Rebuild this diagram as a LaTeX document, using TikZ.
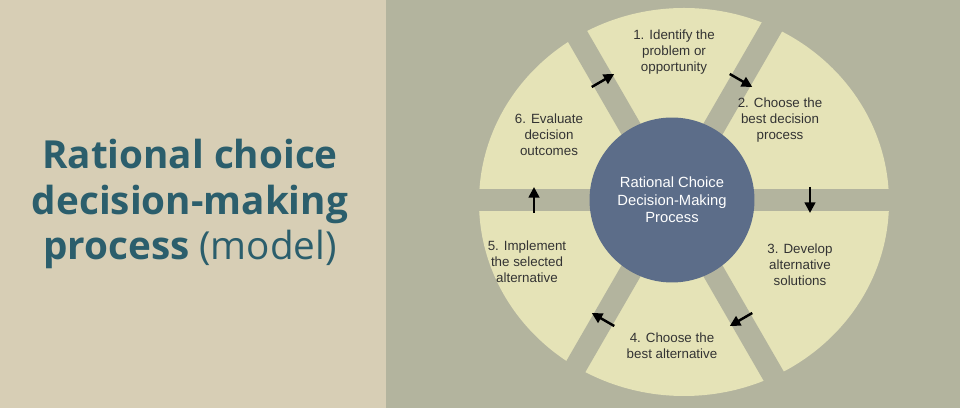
\documentclass[tikz,border=0pt]{standalone}
\usepackage{fontspec}
\setmainfont{Liberation Sans}
\newfontfamily\titlefont{Open Sans}
\usetikzlibrary{arrows.meta,calc}
\definecolor{leftBg}{HTML}{D7CEB5}
\definecolor{rightBg}{HTML}{B3B49E}
\definecolor{sectorFill}{HTML}{E5E3B7}
\definecolor{hubFill}{HTML}{5C6D89}
\definecolor{titleTeal}{HTML}{2B5E6C}
\begin{document}
\begin{tikzpicture}[
    x=0.02cm, y=0.02cm,
    stage/.style={%
      align=center,
      text=black!80,
      font=\fontsize{7.6}{9}\selectfont,
    },
    gap/.style={%
      draw=rightBg,
      line width=0.44cm,
    },
    flow/.style={%
      -{Triangle[length=6pt,width=6pt]},
      line width=1.4pt,
    },
  ]

    % backgrounds
    \fill [leftBg] (0,0) rectangle (386,408);
    \fill [rightBg] (386,0) rectangle (960,408);
    \useasboundingbox (0,0) rectangle (960,408);

    % title
    \node [text=titleTeal, align=center, font=\titlefont\fontsize{22}{26}\selectfont] (T)
      at (190,204) {\textbf{Rational choice}\\\textbf{decision-making}\\\textbf{process} (model)};

    % wheel
    \coordinate (O) at (672,208);
    \fill [sectorFill] (684,206) ellipse [x radius=205, y radius=194];
    \foreach \a in {0,60,120} {
      \draw [gap] (O) ++(\a:230) -- ++(\a+180:460);
    }
    \node [circle, fill=hubFill, minimum size=3.3cm, text=white, align=center,
      font=\fontsize{8.4}{10}\selectfont] (H) at (O)
      {Rational Choice\\Decision-Making\\Process};

    % stages
    \node [stage] (S1) at (674,356) {1. Identify the\\problem or\\opportunity};
    \node [stage] (S2) at (780,288) {2. Choose the\\best decision\\process};
    \node [stage] (S3) at (800,143) {3. Develop\\alternative\\solutions};
    \node [stage] (S4) at (672,62) {4. Choose the\\best alternative};
    \node [stage] (S5) at (527,146) {5. Implement\\the selected\\alternative};
    \node [stage] (S6) at (549,273) {6. Evaluate\\decision\\outcomes};

    % arrows in the gaps
    \foreach \a in {60,0,-60,-120,180,120} {
      \coordinate (A\a) at ($(O)+(\a:138)+(\a+90:13)$);
      \coordinate (B\a) at ($(O)+(\a:138)+(\a-90:13)$);
      \draw [flow] (A\a) -- (B\a);
    }

\end{tikzpicture}
\end{document}
